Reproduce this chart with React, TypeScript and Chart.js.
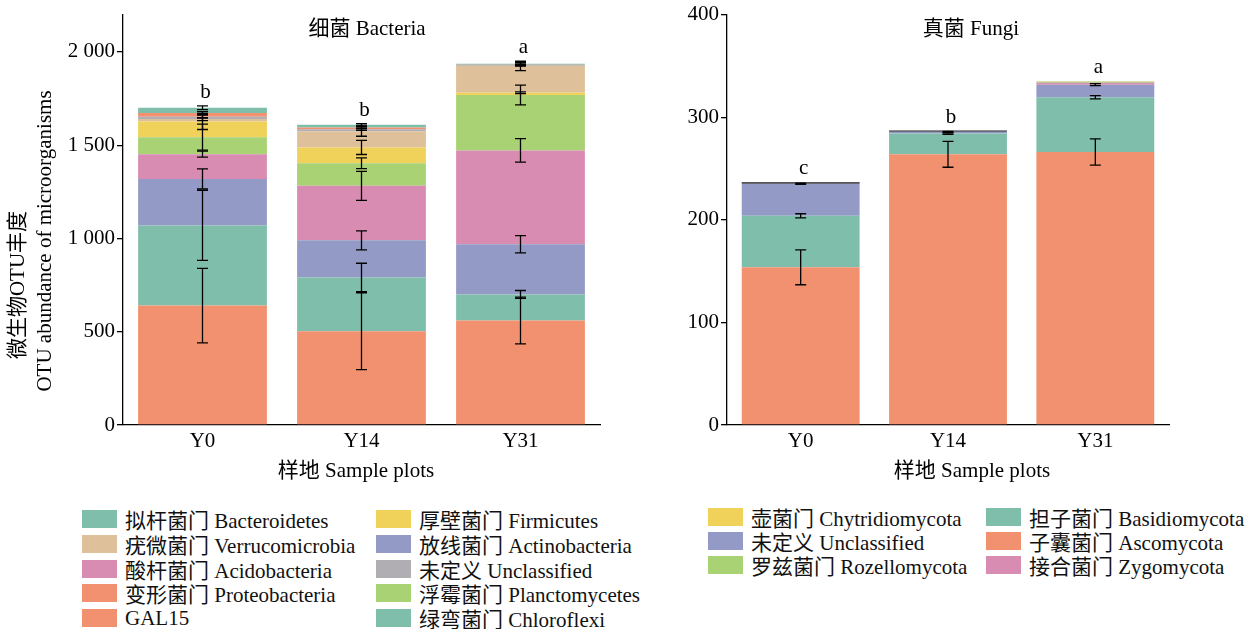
import React, { useEffect, useRef } from 'react';
import { Chart, registerables } from 'chart.js';

Chart.register(...registerables);

const FONT = "'Liberation Serif', 'Noto Sans CJK SC', serif";

// ---------- categories ----------
const plots = ['Y0', 'Y14', 'Y31'];

// ---------- bacteria (stack bottom -> top) ----------
const proteobacteria = [640, 503, 560];
const proteobacteriaErr = [200, 206, 125];
const chloroflexi = [430, 288, 140];
const chloroflexiErr = [188, 76, 21];
const actinobacteria = [249, 199, 269];
const actinobacteriaErr = [54, 51, 46];
const acidobacteria = [133, 292, 503];
const acidobacteriaErr = [16, 78, 63];
const planctomycetes = [91, 121, 297];
const planctomycetesErr = [70, 29, 53];
const firmicutes = [84, 85, 12];
const firmicutesErr = [43, 38, 5];
const verrucomicrobia = [13, 87, 144];
const verrucomicrobiaErr = [8, 27, 25];
const bactUnclassified = [13, 11, 3];
const bactUnclassifiedErr = [8, 6, 4];
const gal15 = [19, 9, 3];
const gal15Err = [8, 6, 4];
const bacteroidetes = [29, 14, 5];
const bacteroidetesErr = [10, 6, 6];
const bacteriaLetters = ['b', 'b', 'a'];
const bacteriaTicks = [0, 500, 1000, 1500, 2000];

// ---------- fungi (stack bottom -> top) ----------
const ascomycota = [153.7, 263.8, 266];
const ascomycotaErr = [17, 12.6, 12.8];
const basidiomycota = [50.2, 20.4, 53.4];
const basidiomycotaErr = [2, 0.8, 1.6];
const fungiUnclassified = [31.3, 1.5, 12.3];
const fungiUnclassifiedErr = [0.6, 0.5, 1];
const zygomycota = [0, 0, 1.8];
const rozellomycota = [0, 0, 1.2];
const chytridiomycota = [1.3, 1.3, 0.4];
const fungiLetters = ['c', 'b', 'a'];
const fungiTicks = [0, 100, 200, 300, 400];

// ---------- colours ----------
const TEAL = '#80BEAC';
const ORANGE = '#F2916F';
const BLUE = '#939AC5';
const PINK = '#D98CB2';
const GREEN = '#A8D274';
const YELLOW = '#F0D25A';
const TAN = '#DEC09A';
const GRAY = '#B0ADB3';
const EDGE = '#1e1e1e';

const fmt = (v: number) =>
  v >= 1000 ? `${Math.floor(v / 1000)} ${String(v % 1000).padStart(3, '0')}` : String(v);

const errorBarPlugin = {
  id: 'errorBars',
  afterDatasetsDraw(chart: any, _args: any, opts: any) {
    const { ctx } = chart;
    const y = chart.scales.y;
    const n = chart.data.labels.length;
    const cum = new Array(n).fill(0);
    const tops = new Array(n).fill(Infinity);
    const xs = new Array(n).fill(0);
    ctx.save();
    ctx.strokeStyle = '#000';
    ctx.lineWidth = 1.3;
    chart.data.datasets.forEach((ds: any, i: number) => {
      const meta = chart.getDatasetMeta(i);
      const errs: number[] = ds.errors || [];
      meta.data.forEach((bar: any, j: number) => {
        cum[j] += ds.data[j];
        xs[j] = bar.x;
        const topPx = y.getPixelForValue(cum[j]);
        tops[j] = Math.min(tops[j], topPx);
        const e = errs[j] || 0;
        if (e > 0) {
          const y1 = y.getPixelForValue(cum[j] + e);
          const y2 = y.getPixelForValue(cum[j] - e);
          const hw = opts.cap || 5.5;
          ctx.beginPath();
          ctx.moveTo(bar.x, y1);
          ctx.lineTo(bar.x, y2);
          ctx.moveTo(bar.x - hw, y1);
          ctx.lineTo(bar.x + hw, y1);
          ctx.moveTo(bar.x - hw, y2);
          ctx.lineTo(bar.x + hw, y2);
          ctx.stroke();
          tops[j] = Math.min(tops[j], y1);
        }
      });
    });
    const letters: string[] = opts.letters || [];
    ctx.fillStyle = '#000';
    ctx.font = `21px ${FONT}`;
    ctx.textAlign = 'center';
    ctx.textBaseline = 'alphabetic';
    letters.forEach((l, j) => {
      ctx.fillText(l, xs[j] + 3, tops[j] - 8);
    });
    ctx.restore();
  },
};

const textPlugin = {
  id: 'texts',
  afterDraw(chart: any, _args: any, opts: any) {
    const { ctx } = chart;
    ctx.save();
    ctx.fillStyle = '#000';
    ctx.textAlign = 'center';
    ctx.textBaseline = 'middle';
    (opts.items || []).forEach((it: any) => {
      ctx.save();
      ctx.font = `${it.size || 21}px ${FONT}`;
      ctx.translate(it.x, it.y);
      if (it.rot) ctx.rotate(it.rot);
      ctx.fillText(it.text, 0, 0);
      ctx.restore();
    });
    ctx.restore();
  },
};

function makeOptions(cfg: any) {
  return {
    responsive: false,
    animation: false,
    layout: { padding: { left: 0, top: 13, right: cfg.padRight, bottom: 0 } },
    datasets: { bar: { categoryPercentage: 1, barPercentage: cfg.barPct, borderWidth: 0 } },
    plugins: {
      legend: { display: false },
      tooltip: { enabled: false },
      title: { display: false },
      errorBars: { letters: cfg.letters, cap: 5.5 },
      texts: { items: cfg.texts },
    },
    scales: {
      x: {
        stacked: true,
        grid: { display: false, drawTicks: false },
        border: { display: true, color: '#000', width: 1.3 },
        ticks: { color: '#000', font: { family: FONT, size: 21 }, padding: 4 },
        afterFit: (s: any) => {
          s.height = 65;
        },
      },
      y: {
        stacked: true,
        min: 0,
        max: cfg.max,
        afterBuildTicks: (s: any) => {
          s.ticks = cfg.ticks.map((v: number) => ({ value: v }));
        },
        ticks: {
          color: '#000',
          font: { family: FONT, size: 21 },
          padding: 2,
          callback: (v: any) => fmt(Number(v)),
        },
        grid: { drawOnChartArea: false, drawTicks: true, tickLength: 6, color: '#000', lineWidth: 1.3 },
        border: { display: true, color: '#000', width: 1.3 },
        afterFit: (s: any) => {
          s.width = cfg.yWidth;
        },
      },
    },
  };
}

function BarChart(props: { type: 'bacteria' | 'fungi'; left: number; width: number }) {
  const ref = useRef<HTMLCanvasElement | null>(null);
  useEffect(() => {
    if (!ref.current) return;
    let data: any;
    let options: any;
    if (props.type === 'bacteria') {
      data = {
        labels: plots,
        datasets: [
          { label: '变形菌门 Proteobacteria', data: proteobacteria, errors: proteobacteriaErr, backgroundColor: ORANGE },
          { label: '绿弯菌门 Chloroflexi', data: chloroflexi, errors: chloroflexiErr, backgroundColor: TEAL },
          { label: '放线菌门 Actinobacteria', data: actinobacteria, errors: actinobacteriaErr, backgroundColor: BLUE },
          { label: '酸杆菌门 Acidobacteria', data: acidobacteria, errors: acidobacteriaErr, backgroundColor: PINK },
          { label: '浮霉菌门 Planctomycetes', data: planctomycetes, errors: planctomycetesErr, backgroundColor: GREEN },
          { label: '厚壁菌门 Firmicutes', data: firmicutes, errors: firmicutesErr, backgroundColor: YELLOW },
          { label: '疣微菌门 Verrucomicrobia', data: verrucomicrobia, errors: verrucomicrobiaErr, backgroundColor: TAN },
          { label: '未定义 Unclassified', data: bactUnclassified, errors: bactUnclassifiedErr, backgroundColor: GRAY },
          { label: 'GAL15', data: gal15, errors: gal15Err, backgroundColor: ORANGE },
          { label: '拟杆菌门 Bacteroidetes', data: bacteroidetes, errors: bacteroidetesErr, backgroundColor: TEAL },
        ],
      };
      options = makeOptions({
        padRight: 30,
        barPct: 0.81,
        max: 2200,
        ticks: bacteriaTicks,
        yWidth: 123,
        letters: bacteriaLetters,
        texts: [
          { text: '细菌 Bacteria', x: 367, y: 29 },
          { text: '样地 Sample plots', x: 356, y: 471 },
          { text: '微生物OTU丰度', x: 18, y: 285, rot: -Math.PI / 2 },
          { text: 'OTU abundance of microorganisms', x: 45, y: 241, rot: -Math.PI / 2 },
        ],
      });
    } else {
      data = {
        labels: plots,
        datasets: [
          { label: '子囊菌门 Ascomycota', data: ascomycota, errors: ascomycotaErr, backgroundColor: ORANGE },
          { label: '担子菌门 Basidiomycota', data: basidiomycota, errors: basidiomycotaErr, backgroundColor: TEAL },
          { label: '未定义 Unclassified', data: fungiUnclassified, errors: fungiUnclassifiedErr, backgroundColor: BLUE },
          { label: '接合菌门 Zygomycota', data: zygomycota, backgroundColor: PINK },
          { label: '罗兹菌门 Rozellomycota', data: rozellomycota, backgroundColor: GREEN },
          { label: '壶菌门 Chytridiomycota', data: chytridiomycota, backgroundColor: [EDGE, EDGE, YELLOW] },
        ],
      };
      options = makeOptions({
        padRight: 89,
        barPct: 0.8,
        max: 400,
        ticks: fungiTicks,
        yWidth: 97,
        letters: fungiLetters,
        texts: [
          { text: '真菌 Fungi', x: 341, y: 29 },
          { text: '样地 Sample plots', x: 342, y: 471 },
        ],
      });
    }
    const chart = new Chart(ref.current, {
      type: 'bar',
      data,
      options,
      plugins: [errorBarPlugin as any, textPlugin as any],
    });
    return () => chart.destroy();
  }, [props.type]);
  return (
    <canvas
      ref={ref}
      width={props.width}
      height={490}
      style={{ position: 'absolute', left: props.left, top: 0, width: props.width, height: 490 }}
    />
  );
}

type LegendItem = { label: string; color: string };

const bacteriaLegendCol1: LegendItem[] = [
  { label: '拟杆菌门 Bacteroidetes', color: TEAL },
  { label: '疣微菌门 Verrucomicrobia', color: TAN },
  { label: '酸杆菌门 Acidobacteria', color: PINK },
  { label: '变形菌门 Proteobacteria', color: ORANGE },
  { label: 'GAL15', color: ORANGE },
];
const bacteriaLegendCol2: LegendItem[] = [
  { label: '厚壁菌门 Firmicutes', color: YELLOW },
  { label: '放线菌门 Actinobacteria', color: BLUE },
  { label: '未定义 Unclassified', color: GRAY },
  { label: '浮霉菌门 Planctomycetes', color: GREEN },
  { label: '绿弯菌门 Chloroflexi', color: TEAL },
];
const fungiLegendCol1: LegendItem[] = [
  { label: '壶菌门 Chytridiomycota', color: YELLOW },
  { label: '未定义 Unclassified', color: BLUE },
  { label: '罗兹菌门 Rozellomycota', color: GREEN },
];
const fungiLegendCol2: LegendItem[] = [
  { label: '担子菌门 Basidiomycota', color: TEAL },
  { label: '子囊菌门 Ascomycota', color: ORANGE },
  { label: '接合菌门 Zygomycota', color: PINK },
];

function LegendColumn(props: { items: LegendItem[]; left: number; top: number; step: number }) {
  return (
    <>
      {props.items.map((it, i) => (
        <div
          key={it.label}
          style={{
            position: 'absolute',
            left: props.left,
            top: props.top + i * props.step - 13,
            height: 26,
            display: 'flex',
            alignItems: 'center',
            whiteSpace: 'nowrap',
            fontFamily: FONT,
            fontSize: 21,
            color: '#111',
          }}
        >
          <span
            style={{
              display: 'inline-block',
              width: 35,
              height: 18,
              background: it.color,
              marginRight: 8,
            }}
          />
          <span>{it.label}</span>
        </div>
      ))}
    </>
  );
}

export default function App() {
  return (
    <div
      style={{
        position: 'absolute',
        left: 0,
        top: 0,
        width: 1258,
        height: 629,
        background: '#fff',
        overflow: 'hidden',
      }}
    >
      <BarChart type="bacteria" left={0} width={630} />
      <BarChart type="fungi" left={630} width={628} />
      <LegendColumn items={bacteriaLegendCol1} left={82} top={519} step={24.8} />
      <LegendColumn items={bacteriaLegendCol2} left={376} top={519} step={24.8} />
      <LegendColumn items={fungiLegendCol1} left={708} top={517} step={24} />
      <LegendColumn items={fungiLegendCol2} left={986} top={517} step={24} />
    </div>
  );
}
